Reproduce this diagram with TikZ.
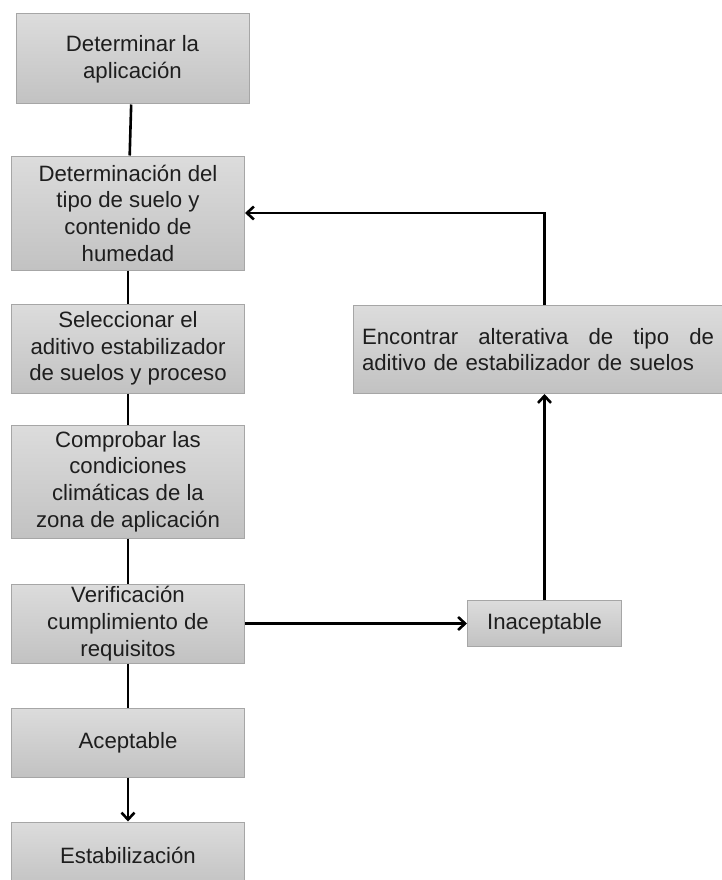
\documentclass[tikz,border=0pt]{standalone}
\usepackage{fontspec}
\setmainfont{Liberation Sans}
\usepackage{tikz}
\usetikzlibrary{arrows.meta, positioning}
\definecolor{boxtop}{HTML}{DCDCDC}
\definecolor{boxbot}{HTML}{C2C2C2}
\definecolor{boxline}{HTML}{A6A6A6}
\definecolor{txt}{HTML}{1E1E1E}

\begin{document}
\begin{tikzpicture}[
    x=1pt, y=1pt,
    node distance=44pt,
    stp/.style={
        rectangle, draw=boxline, line width=1pt,
        top color=boxtop, bottom color=boxbot,
        minimum width=233pt,
        align=center, inner sep=0pt, text=txt,
        font=\fontsize{22.2}{26.7}\selectfont
    },
    lin/.style={line width=2.6pt},
    arr/.style={-{Straight Barb[length=7pt, width=13pt]}, line width=2.6pt}
]
\useasboundingbox (0,0) rectangle (722,-880);

\node[stp, minimum height=90pt] (det) at (132.5,-59) {Determinar la\\aplicación};
\node[stp, minimum height=114pt, below=51pt of det, xshift=-4.5pt] (sue) {Determinación del\\tipo de suelo y\\contenido de\\humedad};
\node[stp, minimum height=89pt,  below=33pt of sue] (sel) {Seleccionar el\\aditivo estabilizador\\de suelos y proceso};
\node[stp, minimum height=113pt, below=31pt of sel] (com) {Comprobar las\\condiciones\\climáticas de la\\zona de aplicación};
\node[stp, minimum height=79pt,  below=45pt of com] (ver) {Verificación\\cumplimiento de\\requisitos};
\node[stp, minimum height=69pt,  below=of ver] (ace) {Aceptable};
\node[stp, minimum height=66pt,  below=of ace] (est) {Estabilización};

\node[stp, minimum width=154pt, minimum height=46pt, right=222pt of ver] (ina) {Inaceptable};
\node[stp, minimum height=88pt, text width=352pt, inner xsep=8.5pt, align=left,
      above=206pt of ina, xshift=-6.5pt] (alt)
      {\makebox[352pt][s]{Encontrar\hfill alterativa\hfill de\hfill tipo\hfill de}\\aditivo de estabilizador de suelos};

\draw[lin] (det) -- (sue);
\draw[lin] (sue) -- (sel);
\draw[lin] (sel) -- (com);
\draw[lin] (com) -- (ver);
\draw[lin] (ver) -- (ace);
\draw[arr] (ace) -- (est);

\draw[arr] (ver) -- (ina);
\draw[arr] (ina) -- (ina |- alt.south);
\draw[arr] (ina |- alt.north) |- (sue.east);

\end{tikzpicture}
\end{document}
